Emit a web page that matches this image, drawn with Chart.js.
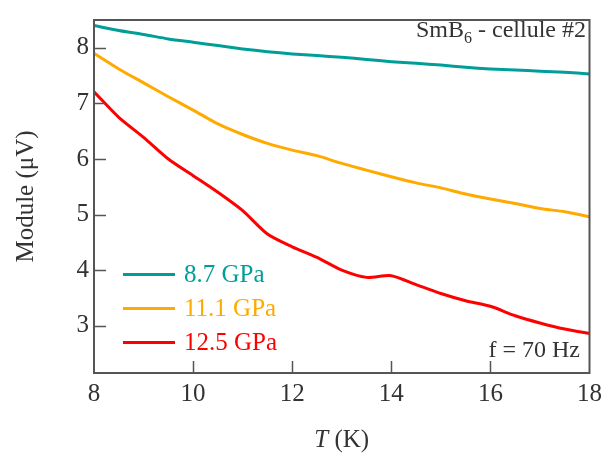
<!DOCTYPE html>
<html>
<head>
<meta charset="utf-8">
<script src="https://cdn.jsdelivr.net/npm/chart.js@4/dist/chart.umd.min.js"></script>
<style>
  html, body { margin: 0; padding: 0; background: #fff; }
</style>
</head>
<body>
<canvas id="chart" width="608" height="457"></canvas>
<script>
// temperature grid (K)
var temps = [8, 8.5, 9, 9.5, 10, 10.5, 11, 11.5, 12, 12.5, 13, 13.5, 14, 14.5, 15, 15.5, 16, 16.5, 17, 17.5, 18]
// module (µV) for each pressure
var p87 = [8.40, 8.31, 8.24, 8.16, 8.10, 8.04, 7.98, 7.93, 7.89, 7.86, 7.83, 7.79, 7.75, 7.72, 7.69, 7.65, 7.62, 7.60, 7.58, 7.56, 7.53]
var p111 = [7.90, 7.62, 7.37, 7.12, 6.88, 6.63, 6.44, 6.28, 6.16, 6.06, 5.92, 5.80, 5.68, 5.57, 5.48, 5.37, 5.28, 5.20, 5.11, 5.05, 4.96]
var p125 = [7.21, 6.75, 6.39, 6.00, 5.70, 5.40, 5.07, 4.65, 4.42, 4.23, 4.00, 3.87, 3.90, 3.74, 3.58, 3.45, 3.35, 3.18, 3.05, 2.94, 2.86]
var seriesLabels = ['8.7 GPa', '11.1 GPa', '12.5 GPa']
var seriesColors = ['#009e98', '#ffaa00', '#ff0000']
var xTicks = [8, 10, 12, 14, 16, 18]
var yTicks = [3, 4, 5, 6, 7, 8]

var FONT = '"Liberation Serif", "Times New Roman", serif'
var frameColor = '#555'

function points(vals) {
  return temps.map(function (t, i) { return { x: t, y: vals[i] } })
}

var datasets = [p87, p111, p125].map(function (vals, i) {
  return {
    label: seriesLabels[i],
    data: points(vals),
    borderColor: seriesColors[i],
    borderWidth: 3,
    pointRadius: 0,
    tension: 0.25,
    fill: false
  }
})

// frame, inward ticks, legend, notes and axis titles
var decor = {
  id: 'decor',
  afterDraw: function (chart) {
    var ctx = chart.ctx
    var a = chart.chartArea
    var xs = chart.scales.x
    var ys = chart.scales.y
    ctx.save()
    ctx.strokeStyle = frameColor
    ctx.lineWidth = 2
    ctx.strokeRect(a.left, a.top, a.right - a.left, a.bottom - a.top)
    ctx.lineWidth = 1.5
    ctx.beginPath()
    xTicks.forEach(function (v) {
      if (v === xs.min || v === xs.max) return
      var px = Math.round(xs.getPixelForValue(v)) + 0.5
      ctx.moveTo(px, a.bottom)
      ctx.lineTo(px, a.bottom - 12)
    })
    yTicks.forEach(function (v) {
      var py = Math.round(ys.getPixelForValue(v)) + 0.5
      ctx.moveTo(a.left, py)
      ctx.lineTo(a.left + 12, py)
    })
    ctx.stroke()

    // legend
    var rows = [274.5, 308.5, 342.5]
    ctx.font = '25px ' + FONT
    ctx.textBaseline = 'middle'
    ctx.textAlign = 'left'
    chart.data.datasets.forEach(function (ds, i) {
      ctx.strokeStyle = ds.borderColor
      ctx.lineWidth = 3
      ctx.beginPath()
      ctx.moveTo(123, rows[i])
      ctx.lineTo(175, rows[i])
      ctx.stroke()
      ctx.fillStyle = ds.borderColor
      ctx.fillText(ds.label, 184, rows[i] + 1)
    })

    // notes
    ctx.fillStyle = '#333'
    ctx.textBaseline = 'alphabetic'
    ctx.font = '24px ' + FONT
    var rest = ' - cellule #2'
    var wRest = ctx.measureText(rest).width
    var wSm = ctx.measureText('SmB').width
    ctx.font = '16px ' + FONT
    var wSub = ctx.measureText('6').width
    var x0 = 586 - wRest - wSub - wSm
    ctx.font = '24px ' + FONT
    ctx.fillText('SmB', x0, 37)
    ctx.fillText(rest, x0 + wSm + wSub, 37)
    ctx.font = '16px ' + FONT
    ctx.fillText('6', x0 + wSm, 43)
    ctx.font = '24px ' + FONT
    ctx.textAlign = 'right'
    ctx.fillText('f = 70 Hz', 580, 357)

    // axis titles
    ctx.font = 'italic 25px ' + FONT
    var wT = ctx.measureText('T').width
    ctx.font = '25px ' + FONT
    var wK = ctx.measureText(' (K)').width
    var cx = (a.left + a.right) / 2 - (wT + wK) / 2
    ctx.textAlign = 'left'
    ctx.font = 'italic 25px ' + FONT
    ctx.fillText('T', cx, 447)
    ctx.font = '25px ' + FONT
    ctx.fillText(' (K)', cx + wT, 447)

    ctx.translate(33, (a.top + a.bottom) / 2)
    ctx.rotate(-Math.PI / 2)
    ctx.textAlign = 'center'
    ctx.fillText('Module (\u03bcV)', 0, 0)
    ctx.restore()
  }
}

new Chart(document.getElementById('chart'), {
  type: 'line',
  data: { datasets: datasets },
  options: {
    responsive: false,
    animation: false,
    layout: { padding: { left: 0, right: 14, top: 9, bottom: 0 } },
    plugins: { legend: { display: false }, tooltip: { enabled: false } },
    scales: {
      x: {
        type: 'linear',
        min: 8,
        max: 18,
        afterBuildTicks: function (s) { s.ticks = xTicks.map(function (v) { return { value: v } }) },
        afterFit: function (s) { s.height = 84 },
        grid: { display: false, drawTicks: false },
        border: { display: false },
        ticks: { color: '#333', font: { family: FONT, size: 25 }, padding: 6, maxRotation: 0 }
      },
      y: {
        min: 2.15,
        max: 8.5,
        afterBuildTicks: function (s) { s.ticks = yTicks.map(function (v) { return { value: v } }) },
        afterFit: function (s) { s.width = 94 },
        grid: { display: false, drawTicks: false },
        border: { display: false },
        ticks: { color: '#333', font: { family: FONT, size: 25 }, padding: 5 }
      }
    }
  },
  plugins: [decor]
})
</script>
</body>
</html>
